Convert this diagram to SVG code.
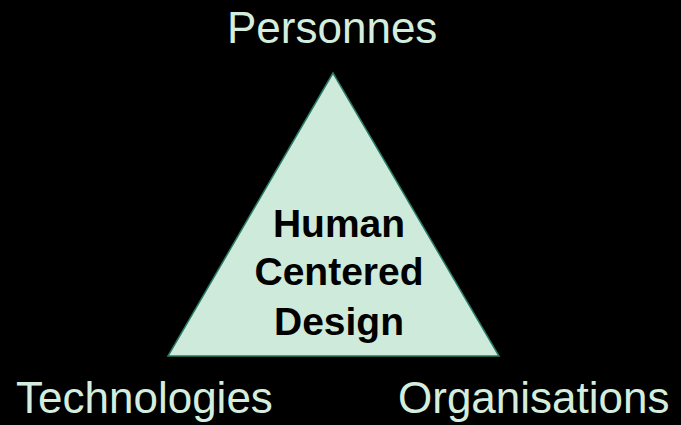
<svg xmlns="http://www.w3.org/2000/svg" width="681" height="425" viewBox="0 0 681 425">
<style>
.lbl{font-family:"Liberation Sans",Arial,sans-serif;font-size:44px;fill:#d3eedf;}
.ctr{font-family:"Liberation Sans",Arial,sans-serif;font-size:39px;font-weight:bold;fill:#000;text-anchor:middle;}
</style>
<rect width="681" height="425" fill="#000"/>
<g id="triangle">
<polygon points="333,73 168,356 499,356" fill="#cdeadb" stroke="#2a7a66" stroke-width="1.5"/>
<text class="ctr" x="339" y="237">Human</text>
<text class="ctr" x="339" y="285">Centered</text>
<text class="ctr" x="339" y="335">Design</text>
</g>
<g id="personnes"><text class="lbl" x="227" y="43">Personnes</text></g>
<g id="technologies"><text class="lbl" x="16" y="413">Technologies</text></g>
<g id="organisations"><text class="lbl" x="398" y="413">Organisations</text></g>
<g id="connectors"></g>
</svg>
